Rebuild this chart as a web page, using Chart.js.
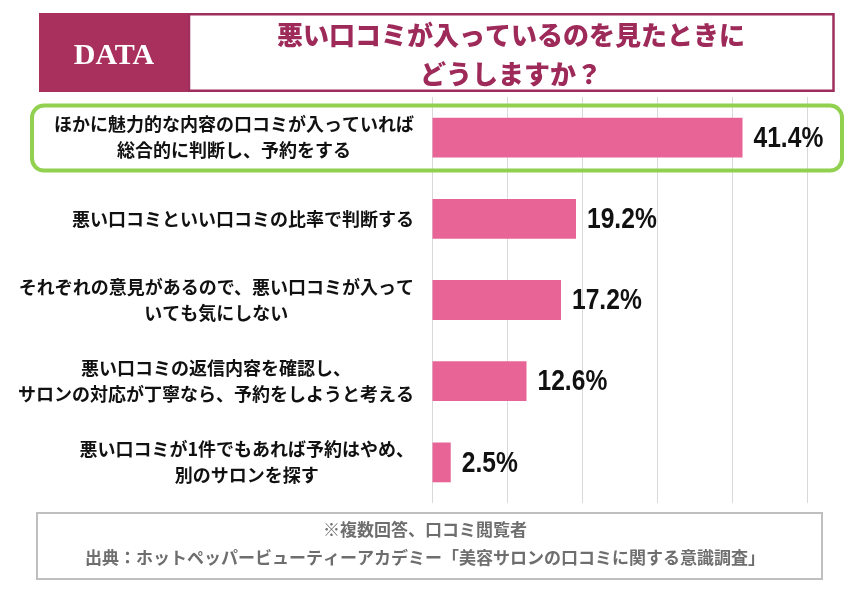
<!DOCTYPE html>
<html lang="ja">
<head>
<meta charset="utf-8">
<script src="https://cdn.jsdelivr.net/npm/chart.js@4.4.1/dist/chart.umd.min.js"></script>
<style>
  body { margin: 0; background: #fff; }
  .chartWrap { position: relative; width: 855px; height: 590px; }
</style>
</head>
<body>
<div class="chartWrap"><canvas id="myChart"></canvas></div>
<script>
// data
const categories = [
  ["ほかに魅力的な内容の口コミが入っていれば", "総合的に判断し、予約をする"],
  ["悪い口コミといい口コミの比率で判断する"],
  ["それぞれの意見があるので、悪い口コミが入って", "いても気にしない"],
  ["悪い口コミの返信内容を確認し、", "サロンの対応が丁寧なら、予約をしようと考える"],
  ["悪い口コミが1件でもあれば予約はやめ、", "別のサロンを探す"],
];
const values = [41.4, 19.2, 17.2, 12.6, 2.5];
const titleLines = ["悪い口コミが入っているのを見たときに", "どうしますか？"];
const noteLines = [
  "※複数回答、口コミ閲覧者",
  "出典：ホットペッパービューティーアカデミー「美容サロンの口コミに関する意識調査」",
];
const badgeText = "DATA";
const highlightIndex = 0;

const jpFont = "'Noto Sans CJK JP', 'Noto Sans', sans-serif";
const numFont = "'Liberation Sans', Arial, sans-serif";

var ctx = document.getElementById("myChart").getContext("2d");

// header, category labels, value labels, highlight box, footer
const decorPlugin = {
  id: "decor",
  beforeDraw(chart) {
    const c = chart.ctx;
    c.save();
    c.fillStyle = "#fff";
    c.fillRect(0, 0, chart.width, chart.height);

    // title box
    c.fillStyle = "#A9305C";
    c.fillRect(39, 13, 151, 79);
    c.strokeStyle = "#9E2F5D";
    c.lineWidth = 2.5;
    c.strokeRect(189, 14.25, 644.5, 76.5);

    c.fillStyle = "#fff";
    c.font = "bold 30px 'Liberation Serif', 'DejaVu Serif', serif";
    c.textAlign = "center";
    c.textBaseline = "middle";
    c.fillText(badgeText, 114, 56);

    c.fillStyle = "#9E2A5A";
    c.font = "900 26px " + jpFont;
    c.fillText(titleLines[0], 511, 35);
    c.fillText(titleLines[1], 511, 74);

    // footer
    c.strokeStyle = "#BFBFBF";
    c.lineWidth = 2;
    c.strokeRect(37, 513, 785, 66);
    c.fillStyle = "#6E6E6E";
    c.font = "bold 17px " + jpFont;
    c.fillText(noteLines[0], 425, 530);
    c.fillText(noteLines[1], 425, 558);
    c.restore();
  },
  afterDatasetsDraw(chart) {
    const c = chart.ctx;
    const yScale = chart.scales.y;
    const meta = chart.getDatasetMeta(0);
    c.save();
    c.textBaseline = "middle";

    // category labels: each block centred, widest line ends at the same x
    c.fillStyle = "#111";
    c.font = "bold 18px " + jpFont;
    c.textAlign = "center";
    const labelRight = 414;
    const lineH = 26;
    categories.forEach((lines, i) => {
      const yc = yScale.getPixelForValue(i);
      const widest = Math.max(...lines.map((l) => c.measureText(l).width));
      const xc = labelRight - widest / 2;
      lines.forEach((l, j) => {
        c.fillText(l, xc, yc + (j - (lines.length - 1) / 2) * lineH);
      });
    });

    // values, squeezed to look like a narrow face
    c.textAlign = "left";
    c.font = "bold 30px " + numFont;
    meta.data.forEach((bar, i) => {
      c.save();
      c.translate(bar.x + 11, bar.y + 1);
      c.scale(0.82, 1);
      c.fillText(values[i].toFixed(1) + "%", 0, 0);
      c.restore();
    });

    // highlight box round the first row
    const hy = yScale.getPixelForValue(highlightIndex);
    c.strokeStyle = "#92D050";
    c.lineWidth = 4;
    c.beginPath();
    c.roundRect(32, hy - 32, 810, 65, 12);
    c.stroke();
    c.restore();
  },
};

var myChart = new Chart(ctx, {
  type: "bar",
  data: {
    labels: categories,
    datasets: [
      {
        data: values,
        backgroundColor: "#E96496",
        borderWidth: 0,
        barPercentage: 0.49,
        categoryPercentage: 1,
      },
    ],
  },
  options: {
    indexAxis: "y",
    responsive: true,
    maintainAspectRatio: false,
    animation: false,
    layout: {
      padding: { left: 432, right: 48, top: 97, bottom: 87 },
    },
    plugins: {
      legend: { display: false },
      tooltip: { enabled: false },
    },
    scales: {
      x: {
        min: 0,
        max: 50,
        ticks: { display: false, stepSize: 10 },
        grid: { color: "#D9D9D9", lineWidth: 1, drawTicks: false },
        border: { display: false },
      },
      y: {
        display: false,
      },
    },
  },
  plugins: [decorPlugin],
});
</script>
</body>
</html>
